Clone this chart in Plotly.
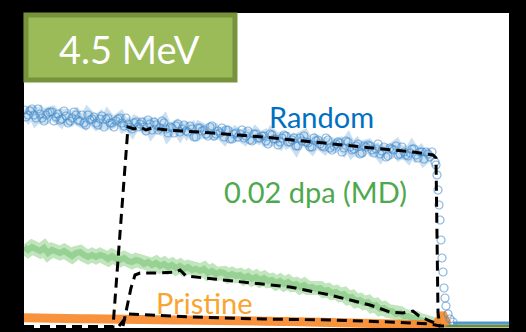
import plotly.graph_objects as go

# ---------------- data (channel vs. yield, arbitrary units) ----------------
blue_x = list(range(0, 412, 4))
blue_random = [
    218, 213, 219, 210, 214, 207, 215, 216, 211, 208,
    217, 205, 210, 213, 207, 205, 213, 209, 205, 209,
    201, 210, 205, 207, 210, 202, 204, 199, 206, 204,
    201, 208, 198, 203, 200, 205, 195, 200, 202, 196,
    203, 196, 199, 191, 200, 198, 192, 202, 194, 195,
    191, 198, 189, 195, 194, 190, 197, 187, 194, 190,
    192, 184, 193, 189, 186, 193, 186, 188, 182, 190,
    192, 185, 181, 187, 184, 181, 188, 178, 184, 185,
    180, 186, 178, 182, 174, 182, 183, 178, 179, 174,
    181, 172, 179, 182, 174, 176, 172, 179, 173, 176,
    169, 174, 176,
]
blue_x2 = list(range(2, 410, 4))
blue_random2 = [
    211, 217, 213, 219, 210, 213, 216, 207, 214, 209,
    212, 207, 216, 208, 213, 203, 208, 211, 203, 212,
    209, 205, 201, 209, 205, 210, 201, 205, 201, 206,
    197, 204, 206, 198, 207, 199, 201, 195, 204, 199,
    197, 202, 191, 200, 197, 194, 201, 192, 197, 200,
    198, 189, 194, 191, 198, 192, 188, 194, 190, 192,
    187, 194, 189, 183, 190, 192, 186, 190, 182, 187,
    186, 181, 190, 188, 182, 190, 180, 182, 186, 176,
    187, 181, 179, 184, 175, 181, 182, 175, 184, 177,
    171, 180, 178, 173, 181, 173, 175, 179, 170, 176,
    176, 171,
]
blue_edge_x = [411, 412, 413, 414, 415, 416, 417, 418, 419, 420, 421, 422, 424, 426, 429]
blue_edge_y = [166, 163, 153, 138, 123, 108, 88, 70, 56, 40, 30, 22, 14, 9, 6]
blue_tail_x = [429, 440, 450, 460, 470, 485]
blue_tail_y = [5, 5, 5, 5, 5, 5]

green_x = list(range(0, 420, 4))
green_md = [
    81, 78, 81, 79, 77, 80, 75, 78, 76, 75,
    77, 74, 72, 75, 76, 73, 71, 73, 71, 73,
    72, 69, 72, 69, 68, 70, 67, 66, 68, 67,
    64, 66, 63, 65, 62, 64, 61, 63, 60, 62,
    59, 61, 58, 59, 57, 59, 55, 57, 54, 56,
    55, 52, 54, 52, 53, 50, 52, 49, 51, 48,
    50, 47, 48, 45, 47, 44, 46, 43, 44, 41,
    43, 40, 41, 39, 40, 37, 38, 35, 36, 33,
    34, 30, 31, 27, 28, 25, 26, 22, 23, 19,
    20, 17, 17, 14, 15, 12, 12, 10, 10, 8,
    7, 5, 5, 3, 2,
]
green_tail_x = [416, 485]
green_tail_y = [2, 2]

orange_x = list(range(0, 416, 8)) + [412, 416, 418, 421, 424]
orange_pristine = [
    10.2, 9.8, 10.0, 9.6, 9.8, 9.4, 9.5, 9.2, 9.3, 9.0,
    9.1, 8.8, 8.9, 8.6, 8.7, 8.4, 8.5, 8.2, 8.3, 8.0,
    8.1, 7.8, 7.8, 7.6, 7.7, 7.4, 7.5, 7.2, 7.3, 7.0,
    7.0, 6.8, 6.6, 6.5, 6.2, 6.1, 5.9, 5.7, 5.6, 5.3,
    5.2, 4.9, 4.8, 4.5, 4.4, 4.1, 4.0, 3.8, 3.6, 3.4,
    3.2, 3.0,
    3, 9, 15, 8, 3,
]

sim_random_x = [0, 89, 104, 110, 116, 122, 128, 143, 189, 239, 289, 339, 389, 409, 412, 414, 416, 420]
sim_random_y = [1.5, 1.5, 201, 199, 201, 198, 200, 198, 195, 191, 186, 181, 176, 173, 170, 15, 2, 2]
sim_dpa_x = [99, 107, 111, 116, 135, 152, 156, 162, 190, 239, 266, 306, 346, 366, 379, 389, 395, 406, 416]
sim_dpa_y = [2, 40, 53, 55, 55, 56, 58, 52, 49, 44, 41, 33, 23, 16, 15, 17, 12, 7, 3]
sim_pristine_x = [95, 100, 104, 130, 166, 239, 306, 366, 406, 416]
sim_pristine_y = [2, 8, 14, 13, 11, 9, 8, 6, 4, 2]

# ---------------- figure ----------------
fig = go.Figure()

fig.add_trace(go.Scatter(x=green_x, y=green_md, mode="lines",
                         line=dict(color="rgba(100,190,90,0.40)", width=14)))
fig.add_trace(go.Scatter(x=green_x, y=green_md, mode="lines",
                         line=dict(color="rgba(76,172,72,0.35)", width=6)))
fig.add_trace(go.Scatter(x=green_tail_x, y=green_tail_y, mode="lines",
                         line=dict(color="rgb(110,140,50)", width=3)))
fig.add_trace(go.Scatter(x=orange_x, y=orange_pristine, mode="lines",
                         line=dict(color="rgba(247,134,40,0.9)", width=9)))

fig.add_trace(go.Scatter(x=blue_x, y=blue_random, mode="lines",
                         line=dict(color="rgba(80,150,210,0.30)", width=12)))
fig.add_trace(go.Scatter(x=blue_x + blue_x2 + blue_edge_x,
                         y=blue_random + blue_random2 + blue_edge_y, mode="markers",
                         marker=dict(symbol="circle-open", size=8,
                                     color="rgba(60,135,200,0.6)",
                                     line=dict(width=1.2))))
fig.add_trace(go.Scatter(x=blue_tail_x, y=blue_tail_y, mode="lines",
                         line=dict(color="rgb(80,150,210)", width=3)))

for xs, ys in [(sim_random_x, sim_random_y), (sim_dpa_x, sim_dpa_y),
               (sim_pristine_x, sim_pristine_y)]:
    fig.add_trace(go.Scatter(x=xs, y=ys, mode="lines",
                             line=dict(color="black", width=3, dash="10px,6px")))

font_family = "Lato"
fig.add_annotation(x=297.5, y=211.5, text="Random", showarrow=False,
                   font=dict(family=font_family, size=29, color="#0070C0"),
                   xanchor="center", yanchor="middle")
fig.add_annotation(x=291, y=137, text="0.02 dpa (MD)", showarrow=False,
                   font=dict(family=font_family, size=29, color="#4EA94E"),
                   xanchor="center", yanchor="middle")
fig.add_annotation(x=180.5, y=25.5, text="Pristine", showarrow=False,
                   font=dict(family=font_family, size=29, color="#F9A530"),
                   xanchor="center", yanchor="middle")

fig.add_shape(type="rect", xref="paper", yref="paper",
              x0=0.004, x1=0.435, y0=0.787, y1=0.994,
              fillcolor="#9BBB59", line=dict(color="#77933C", width=5))
fig.add_annotation(xref="paper", yref="paper", x=0.2175, y=0.886,
                   text="4.5 MeV", showarrow=False,
                   font=dict(family=font_family, size=38, color="white"),
                   xanchor="center", yanchor="middle")

fig.update_layout(
    width=526, height=332,
    margin=dict(l=24, r=17, t=13, b=4),
    paper_bgcolor="black", plot_bgcolor="white",
    showlegend=False,
    xaxis=dict(range=[0, 485], visible=False),
    yaxis=dict(range=[0, 315], visible=False),
)

fig.write_html("out.html")
